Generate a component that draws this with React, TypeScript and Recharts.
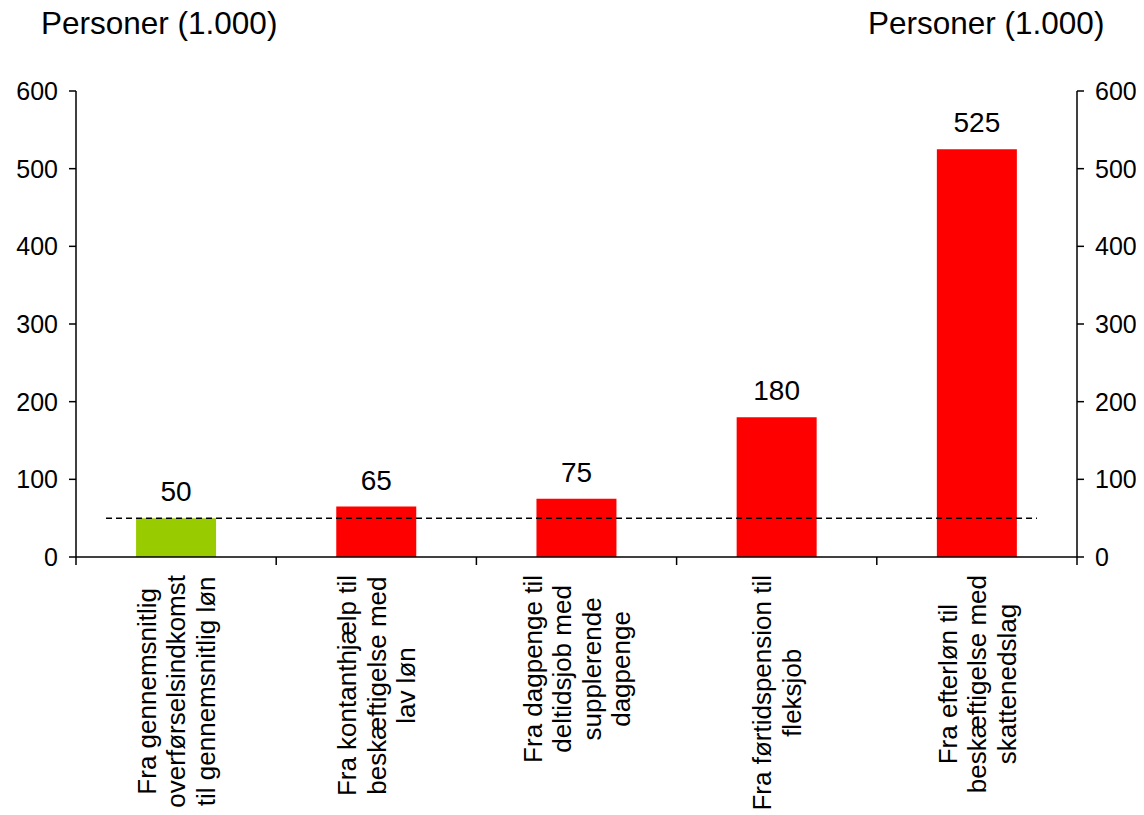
import React from 'react';
import { ComposedChart, Bar, Line, Cell, XAxis, YAxis, ReferenceLine, LabelList } from 'recharts';

const categories = [
  'Fra gennemsnitlig\noverførselsindkomst\ntil gennemsnitlig løn',
  'Fra kontanthjælp til\nbeskæftigelse med\nlav løn',
  'Fra dagpenge til\ndeltidsjob med\nsupplerende\ndagpenge',
  'Fra førtidspension til\nfleksjob',
  'Fra efterløn til\nbeskæftigelse med\nskattenedslag',
];
const values = [50, 65, 75, 180, 525];
const barColors = ['#99CC00', '#FF0000', '#FF0000', '#FF0000', '#FF0000'];
const yTicks = [0, 100, 200, 300, 400, 500, 600];
const threshold = 50;
const axisTitle = 'Personer (1.000)';

const data = categories.map((name, i) => ({ name, value: values[i] }));

const FONT = "'Liberation Sans', Arial, sans-serif";
const W = 1136;
const H = 807;
const PLOT_LEFT = 68;
const PLOT_RIGHT = 1069;
const BAND = (PLOT_RIGHT - PLOT_LEFT) / categories.length;
const CAT_FONT = 26;
const CAT_LH = 29.5;

let ctx: CanvasRenderingContext2D | null = null;
const measure = (s: string) => {
  if (!ctx) ctx = document.createElement('canvas').getContext('2d');
  if (!ctx) return s.length * CAT_FONT * 0.5;
  ctx.font = `${CAT_FONT}px 'Liberation Sans'`;
  return ctx.measureText(s).width;
};

const CategoryTick = (props: any) => {
  const { x, y, payload, index } = props;
  const lines: string[] = String(payload.value).split('\n');
  const maxW = Math.max(...lines.map(measure));
  const top = y + 10;
  const cy = top + maxW / 2;
  const n = lines.length;
  const axisY = y - 8;
  return (
    <g>
      <line x1={x - BAND / 2} y1={axisY} x2={x - BAND / 2} y2={y} stroke="#000" strokeWidth={1.5} />
      {index === categories.length - 1 && (
        <line x1={x + BAND / 2} y1={axisY} x2={x + BAND / 2} y2={y} stroke="#000" strokeWidth={1.5} />
      )}
      {lines.map((l, i) => {
        const cx = x + (i - (n - 1) / 2) * CAT_LH + CAT_FONT * 0.36;
        return (
          <text
            key={i}
            x={cx}
            y={cy}
            transform={`rotate(-90 ${cx} ${cy})`}
            textAnchor="middle"
            fontFamily={FONT}
            fontSize={CAT_FONT}
            fill="#000"
          >
            {l}
          </text>
        );
      })}
    </g>
  );
};

// dashed 50-line: runs from a bit left of the first bar to a bit right of the last one
const ThresholdShape = (props: any) => {
  const { x1, y1 } = props;
  const y = y1 ?? props.y;
  const left = (x1 ?? PLOT_LEFT) + 0.15 * BAND;
  const right = (x1 ?? PLOT_LEFT) + 4.8 * BAND;
  return <line x1={left} y1={y} x2={right} y2={y} stroke="#000" strokeWidth={1.5} strokeDasharray="6 4" />;
};

const titleStyle: React.CSSProperties = {
  position: 'absolute',
  top: 0,
  fontFamily: FONT,
  fontSize: 31.5,
  lineHeight: '31.5px',
  color: '#000',
  whiteSpace: 'nowrap',
};

export default function App() {
  return (
    <div style={{ position: 'relative', width: W, height: H }}>
      <div style={{ ...titleStyle, left: 33 }}>{axisTitle}</div>
      <div style={{ ...titleStyle, left: 860 }}>{axisTitle}</div>
      <ComposedChart
        width={W}
        height={H}
        data={data}
        margin={{ top: 83, right: 0, bottom: 0, left: 0 }}
        barCategoryGap="30%"
      >
        <XAxis
          dataKey="name"
          interval={0}
          height={258}
          tickLine={false}
          tickSize={8}
          tickMargin={0}
          axisLine={{ stroke: '#000', strokeWidth: 1.5 }}
          tick={<CategoryTick />}
        />
        <YAxis
          yAxisId="left"
          width={PLOT_LEFT}
          domain={[0, 600]}
          ticks={yTicks}
          interval={0}
          tickSize={7}
          tickMargin={11}
          axisLine={{ stroke: '#000', strokeWidth: 1.5 }}
          tickLine={{ stroke: '#000', strokeWidth: 1.5 }}
          tick={{ fontFamily: FONT, fontSize: 25, fill: '#000' }}
        />
        <YAxis
          yAxisId="right"
          orientation="right"
          width={W - PLOT_RIGHT}
          domain={[0, 600]}
          ticks={yTicks}
          interval={0}
          tickSize={7}
          tickMargin={11}
          axisLine={{ stroke: '#000', strokeWidth: 1.5 }}
          tickLine={{ stroke: '#000', strokeWidth: 1.5 }}
          tick={{ fontFamily: FONT, fontSize: 25, fill: '#000' }}
        />
        <Bar dataKey="value" yAxisId="left" isAnimationActive={false}>
          {data.map((d, i) => (
            <Cell key={d.name} fill={barColors[i]} />
          ))}
          <LabelList
            dataKey="value"
            position="top"
            offset={17}
            fontFamily={FONT}
            fontSize={28}
            fill="#000"
          />
        </Bar>
        {/* invisible series so the right axis gets its scale */}
        <Line
          dataKey="value"
          yAxisId="right"
          stroke="none"
          dot={false}
          activeDot={false}
          legendType="none"
          isAnimationActive={false}
        />
        <ReferenceLine yAxisId="left" y={threshold} shape={<ThresholdShape />} />
      </ComposedChart>
    </div>
  );
}
